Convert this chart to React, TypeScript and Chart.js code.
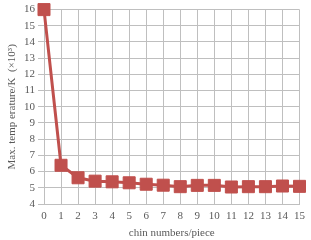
import React, { useEffect, useRef } from "react";
import { Chart, registerables } from "chart.js";

Chart.register(...registerables);

const categories = ["0", "1", "2", "3", "4", "5", "6", "7", "8", "9", "10", "11", "12", "13", "14", "15"];
const maxTemp = [16, 6.39, 5.62, 5.41, 5.37, 5.31, 5.22, 5.16, 5.07, 5.15, 5.15, 5.05, 5.07, 5.07, 5.11, 5.09];
const xTitle = "chin numbers/piece";
const yTitle = "Max. temp erature/K  (×10³)";

export default function App() {
  const ref = useRef<HTMLCanvasElement>(null);
  useEffect(() => {
    const ctx = ref.current!;
    const font = { family: "'Liberation Serif', 'Times New Roman', serif", size: 11 };
    const chart = new Chart(ctx, {
      type: "line",
      data: {
        labels: categories,
        datasets: [
          {
            data: maxTemp,
            borderColor: "#C0504D",
            backgroundColor: "#C0504D",
            borderWidth: 3,
            pointStyle: "rect",
            pointRadius: 8.5,
            pointBorderWidth: 1,
            pointBorderColor: "#C0504D",
            pointBackgroundColor: "#C0504D",
            tension: 0,
            clip: false as any,
          },
        ],
      },
      options: {
        animation: false,
        responsive: false,
        maintainAspectRatio: false,
        layout: { padding: { top: 8, right: 10, left: 6, bottom: 0 } },
        plugins: { legend: { display: false }, tooltip: { enabled: false } },
        scales: {
          x: {
            type: "category",
            offset: false,
            grid: { color: "#BFBFBF", lineWidth: 1, drawTicks: false },
            border: { color: "#BFBFBF" },
            ticks: { color: "#595959", font, padding: 6, maxRotation: 0, autoSkip: false },
            title: { display: true, text: xTitle, color: "#595959", font, padding: { top: 2, bottom: 0 } },
            afterFit: (s: any) => { s.height = 36; },
          },
          y: {
            min: 4,
            max: 16,
            grid: { color: "#BFBFBF", lineWidth: 1, tickLength: 6 },
            border: { color: "#BFBFBF" },
            ticks: { stepSize: 1, color: "#595959", font, padding: 3 },
            title: { display: true, text: yTitle, color: "#595959", font, padding: { top: 0, bottom: 2 } },
            afterFit: (s: any) => { s.width = 38; },
          },
        },
      },
    });
    return () => chart.destroy();
  }, []);
  return (
    <div style={{ position: "fixed", left: 0, top: 0, width: 311, height: 240, background: "#fff" }}>
      <canvas ref={ref} width={311} height={240} style={{ width: 311, height: 240 }} />
    </div>
  );
}
